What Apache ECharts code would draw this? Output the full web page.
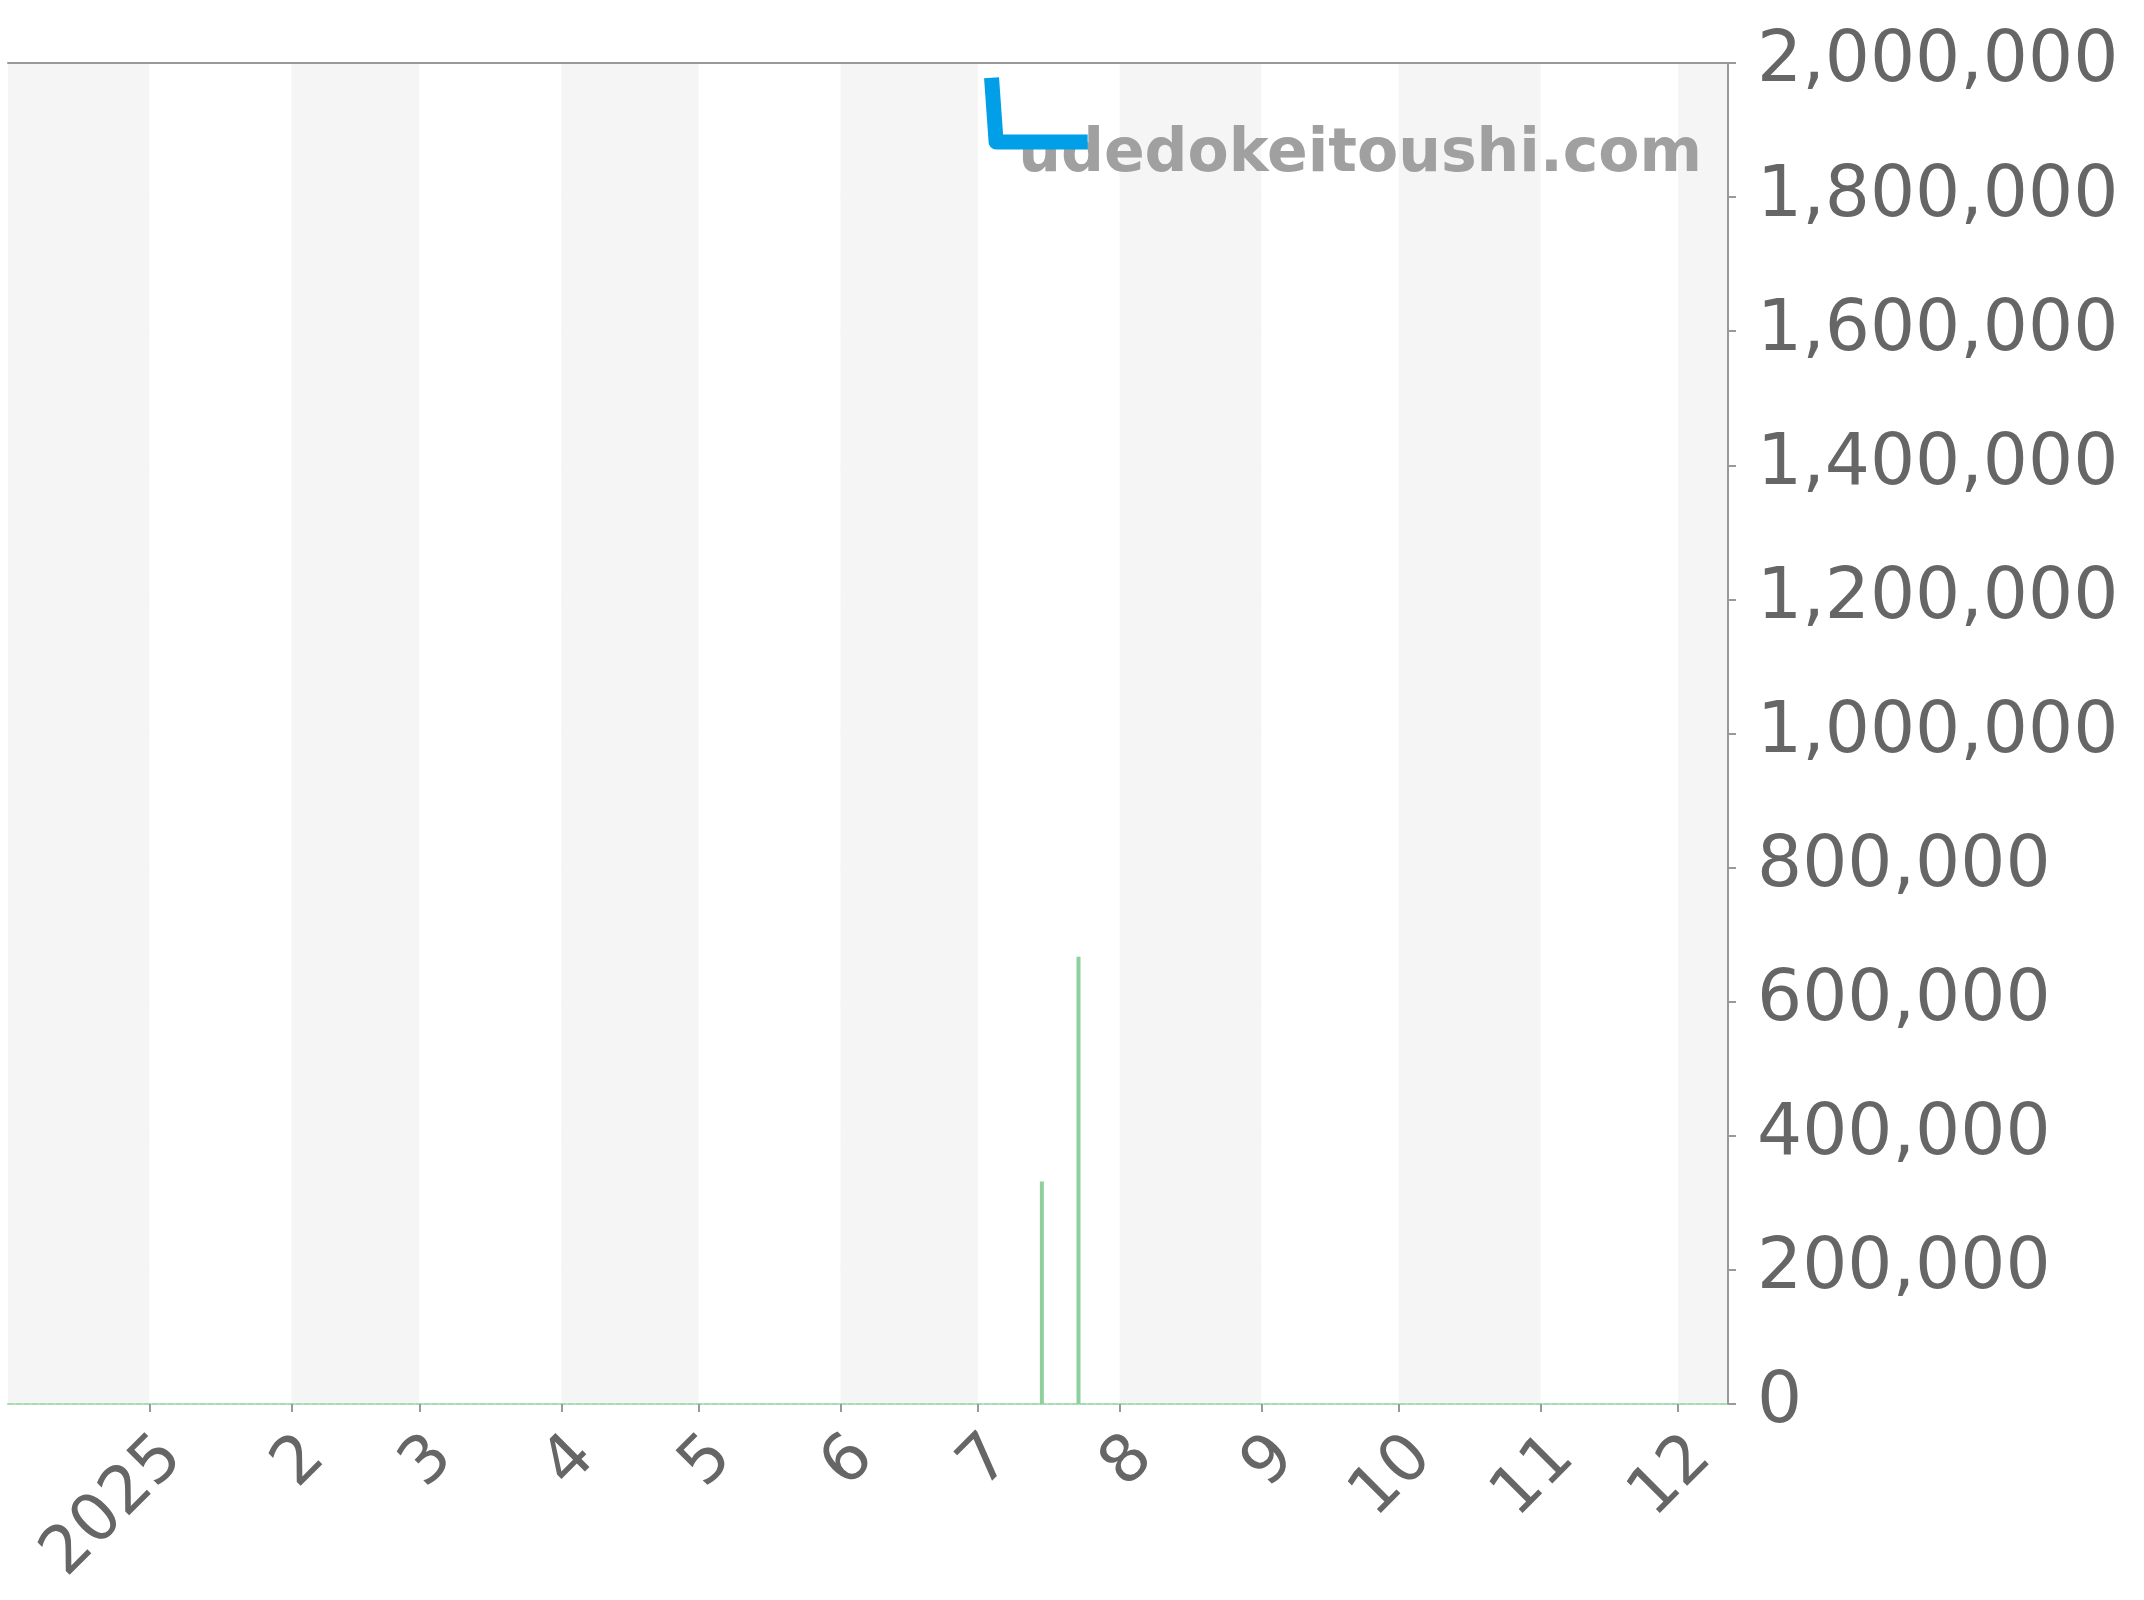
<!DOCTYPE html>
<html>
<head>
<meta charset="utf-8">
<script src="https://cdn.jsdelivr.net/npm/echarts@6/dist/echarts.min.js"></script>
<style>html,body{margin:0;padding:0;background:#fff}#c{width:2144px;height:1600px}</style>
</head>
<body>
<div id="c"></div>
<script>
// Data
const axisStart = '2024-12-01 12:00:00';
const axisEnd = '2025-12-11 12:00:00';
const priceDates = ['2025-07-04', '2025-07-05', '2025-07-25'];
const priceValues = [1978000, 1882000, 1882000];
const volumeDates = ['2025-07-15', '2025-07-23'];
const volumeValues = [332000, 667000];
const yTicks = [0, 200000, 400000, 600000, 800000, 1000000, 1200000, 1400000, 1600000, 1800000, 2000000];
const watermark = 'udedokeitoushi.com';

const chart = echarts.init(document.getElementById('c'));
const DAY = 86400000;
chart.setOption({
  animation: false,
  backgroundColor: '#ffffff',
  grid: { left: 8, right: 416, top: 63, bottom: 196, containLabel: false },
  xAxis: [{
    type: 'time',
    min: axisStart,
    max: axisEnd,
    splitNumber: 12,
    minInterval: 28 * DAY,
    maxInterval: 31 * DAY,
    axisLine: { show: true, lineStyle: { color: '#a6dcb1', width: 2, type: [6, 2] } },
    axisTick: { show: true, length: 8, lineStyle: { color: '#999', width: 2 } },
    axisLabel: {
      rotate: 45, margin: 20, color: '#666', fontSize: 66, fontFamily: 'DejaVu Sans',
      verticalAlign: 'top',
      hideOverlap: false,
      formatter: function (v) {
        const d = new Date(v);
        const m = d.getMonth();
        return m === 0 ? String(d.getFullYear()) : String(m + 1);
      }
    },
    splitLine: { show: false },
    splitArea: { show: true, areaStyle: { color: ['#f5f5f5', '#ffffff'] } }
  }, {
    type: 'time', position: 'top', min: axisStart, max: axisEnd,
    axisLine: { show: true, lineStyle: { color: '#999', width: 2 } },
    axisTick: { show: false }, axisLabel: { show: false }, splitLine: { show: false }
  }],
  yAxis: {
    type: 'value',
    position: 'right',
    min: 0, max: 2000000, interval: 200000,
    axisLine: { show: true, lineStyle: { color: '#999', width: 2 } },
    axisTick: { show: true, length: 8, lineStyle: { color: '#999', width: 2 } },
    axisLabel: {
      margin: 29, color: '#666', fontSize: 71, fontFamily: 'DejaVu Sans',
      padding: [12, 0, 0, 0],
      formatter: function (v) { return yTicks.indexOf(v) >= 0 ? v.toLocaleString('en-US') : ''; }
    },
    splitLine: { show: true, lineStyle: { color: '#e8e8e8', width: 1.5 } }
  },
  graphic: [{
    type: 'text', z: 1, zlevel: 0,
    right: 442, top: 125,
    style: { text: watermark, fill: '#a0a0a0', font: 'bold 60px "DejaVu Sans"' }
  }],
  series: [{
    type: 'bar', name: 'volume', z: 3,
    data: volumeDates.map((d, i) => [d, volumeValues[i]]),
    barWidth: 4, barMinWidth: 4,
    itemStyle: { color: '#8fd19e' }
  }, {
    type: 'line', name: 'price', z: 5,
    data: priceDates.map((d, i) => [d, priceValues[i]]),
    showSymbol: false, symbol: 'none',
    lineStyle: { color: '#009fe8', width: 15, join: 'round', cap: 'butt' }
  }]
});
</script>
</body>
</html>
